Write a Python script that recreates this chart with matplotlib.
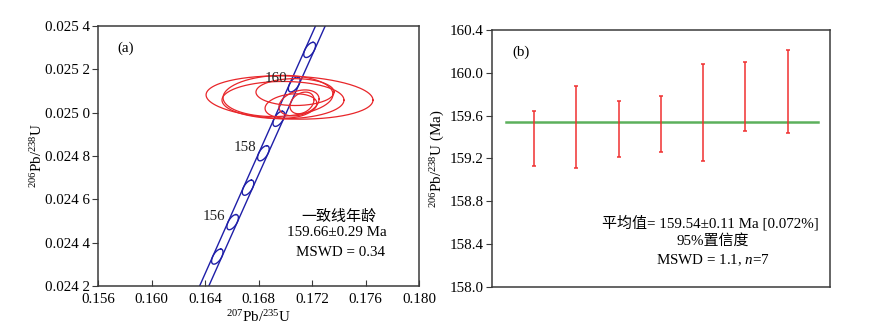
import numpy as np
import matplotlib
matplotlib.use("Agg")
import matplotlib.pyplot as plt
from matplotlib.ticker import FuncFormatter

plt.rcParams['font.family'] = ['Liberation Serif', 'Noto Sans CJK SC']
plt.rcParams['mathtext.fontset'] = 'custom'
plt.rcParams['mathtext.rm'] = 'Liberation Serif'
plt.rcParams['mathtext.it'] = 'Liberation Serif:italic'
plt.rcParams['font.size'] = 10.8

# ---------------- data ----------------
# (a) concordia data ellipses: 207Pb/235U, 206Pb/238U centres, half-extents, correlation
ell_x = [0.17032, 0.16983, 0.16946, 0.17073, 0.17043, 0.17103, 0.17125]
ell_y = [0.025070, 0.025058, 0.025077, 0.025095, 0.025031, 0.025045, 0.025045]
ell_hx = [0.00624, 0.00456, 0.00411, 0.00292, 0.00194, 0.00150, 0.00090]
ell_hy = [0.0001000, 0.0000860, 0.0000950, 0.0000620, 0.0000560, 0.0000600, 0.0000500]
ell_rho = [-0.12, 0.0, 0.08, 0.0, 0.2, 0.3, 0.3]

marker_ages = [155, 156, 157, 158, 159, 160, 161]   # Ma
label_ages = [156, 158, 160]
LAMBDA238 = 1.55125e-10
LAMBDA235 = 9.8485e-10
band_frac = 0.0021

xticks_a = [0.156, 0.160, 0.164, 0.168, 0.172, 0.176, 0.180]
yticks_a = [0.0242, 0.0244, 0.0246, 0.0248, 0.0250, 0.0252, 0.0254]

# (b) weighted mean ages
spot = [1, 2, 3, 4, 5, 6, 7]
age = [159.385, 159.495, 159.475, 159.52, 159.63, 159.78, 159.825]
age_err = [0.255, 0.385, 0.265, 0.26, 0.45, 0.32, 0.385]
mean_age = 159.54
yticks_b = [158.0, 158.4, 158.8, 159.2, 159.6, 160.0, 160.4]

# ---------------- figure ----------------
fig = plt.figure(figsize=(8.7, 3.33), dpi=100)
axA = fig.add_axes([98/870, 1-286/333, 321/870, 260/333])
axB = fig.add_axes([492/870, 1-287/333, 338/870, 257/333])

spine_c = '#3a3a3a'
for ax in (axA, axB):
    for s in ax.spines.values():
        s.set_color(spine_c)
        s.set_linewidth(1.1)

# concordia
def conc(t_ma):
    t = np.asarray(t_ma) * 1e6
    return np.exp(LAMBDA235 * t) - 1, np.exp(LAMBDA238 * t) - 1

blue = '#1f1fa8'
tt = np.linspace(150, 166, 400)
cx, cy = conc(tt)
axA.plot(cx * (1 - band_frac), cy, color=blue, lw=1.0)
axA.plot(cx * (1 + band_frac), cy, color=blue, lw=1.0)

th = np.linspace(0, 2*np.pi, 200)
for a in marker_ages:
    x0, y0 = conc(a)
    xp, yp = conc(a + 0.22)
    xm, ym = conc(a - 0.22)
    tx, ty = (xp - xm) / 2, (yp - ym) / 2
    dx = x0 * band_frac
    axA.plot(x0 + tx*np.cos(th) + dx*np.sin(th), y0 + ty*np.cos(th), color=blue, lw=1.0)

for a in label_ages:
    x0, y0 = conc(a)
    axA.annotate(str(a), (x0, y0), xytext=(-7, 6), textcoords='offset pixels',
                 ha='right', va='center', fontsize=10.8, color='#222222')

red = '#e8262a'
for x0, y0, hx, hy, r in zip(ell_x, ell_y, ell_hx, ell_hy, ell_rho):
    ex = x0 + hx*np.cos(th)
    ey = y0 + hy*(r*np.cos(th) + np.sqrt(1 - r*r)*np.sin(th))
    axA.plot(ex, ey, color=red, lw=0.9)

axA.set_xlim(0.156, 0.180)
axA.set_ylim(0.0242, 0.0254)
axA.set_xticks(xticks_a)
axA.set_yticks(yticks_a)
axA.xaxis.set_major_formatter(FuncFormatter(lambda v, p: f"{v:.3f}"))
axA.yaxis.set_major_formatter(FuncFormatter(lambda v, p: (lambda s: s[:5] + ' ' + s[5:])(f"{v:.4f}")))
axA.tick_params(axis='x', direction='in', length=4, color=spine_c, pad=5)
axA.tick_params(axis='y', direction='out', length=4, color=spine_c, pad=2)
axA.set_xlabel(r'$^{207}$Pb/$^{235}$U', labelpad=2)
axA.set_ylabel(r'$^{206}$Pb/$^{238}$U', labelpad=0)
axA.text(0.06, 0.94, '(a)', transform=axA.transAxes, ha='left', va='top')
axA.text(0.75, 0.265, '一致线年龄', transform=axA.transAxes, ha='center', va='center')
axA.text(0.745, 0.205, '159.66±0.29 Ma', transform=axA.transAxes, ha='center', va='center')
axA.text(0.757, 0.13, 'MSWD = 0.34', transform=axA.transAxes, ha='center', va='center')

# (b)
axB.errorbar(spot, age, yerr=age_err, fmt='none', ecolor='#f03030', elinewidth=1.1,
             capsize=1.5, capthick=1.1, zorder=3)
axB.plot([0.32, 7.71], [mean_age, mean_age], color='#5cb05c', lw=1.8, zorder=2)
axB.set_xlim(0, 8)
axB.set_ylim(158.0, 160.4)
axB.set_xticks([])
axB.set_yticks(yticks_b)
axB.yaxis.set_major_formatter(FuncFormatter(lambda v, p: f"{v:.1f}"))
axB.tick_params(axis='y', direction='out', length=4, color=spine_c, pad=2)
axB.set_ylabel(r'$^{206}$Pb/$^{238}$U (Ma)', labelpad=2)
axB.text(0.06, 0.94, '(b)', transform=axB.transAxes, ha='left', va='top')
axB.text(0.645, 0.25, '平均值= 159.54±0.11 Ma [0.072%]', transform=axB.transAxes,
         ha='center', va='center')
axB.text(0.652, 0.18, '95%置信度', transform=axB.transAxes, ha='center', va='center')
axB.text(0.653, 0.105, 'MSWD = 1.1, $n$=7', transform=axB.transAxes, ha='center', va='center')

fig.savefig('out.png', dpi=100)
